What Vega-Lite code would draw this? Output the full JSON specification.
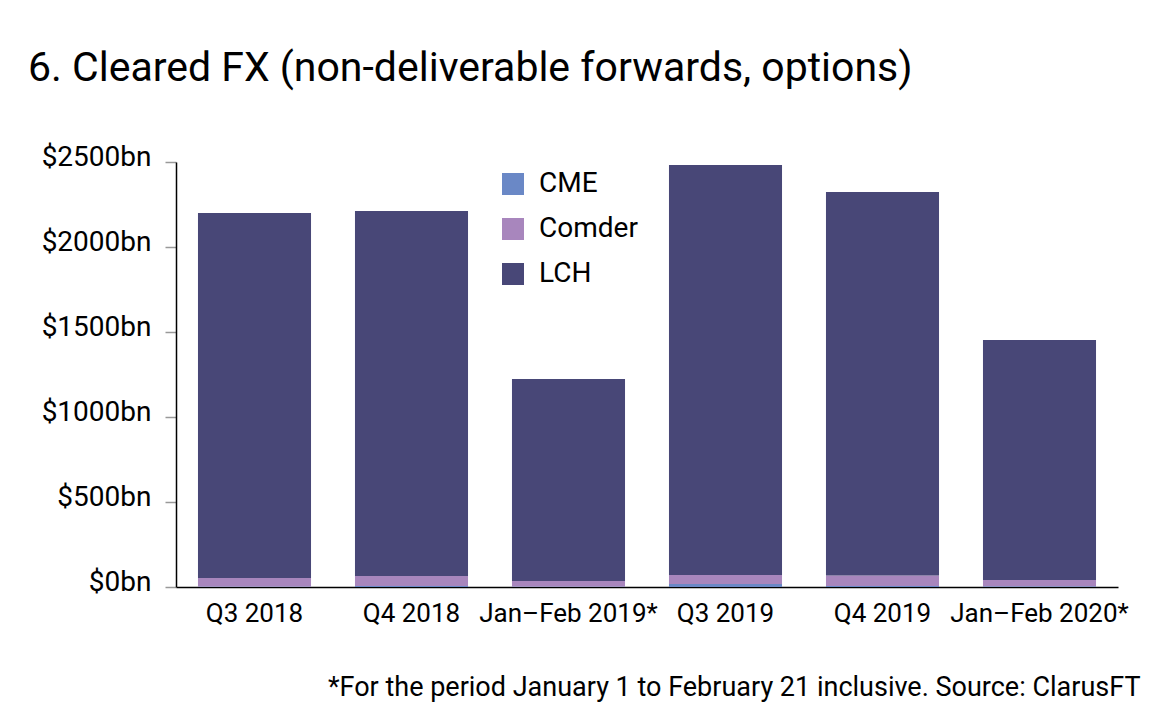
{
  "$schema": "https://vega.github.io/schema/vega-lite/v6.json",
  "width": 942,
  "height": 425,
  "autosize": {"type": "none"},
  "padding": {"left": 176, "top": 162, "right": 42, "bottom": 129},
  "background": "white",
  "title": {
    "text": "6. Cleared FX (non-deliverable forwards, options)",
    "anchor": "start",
    "frame": "group",
    "dx": -148,
    "offset": 21,
    "baseline": "alphabetic",
    "fontSize": 41,
    "font": "Roboto",
    "fontWeight": "normal",
    "color": "black",
    "limit": 0
  },
  "data": {
    "values": [
      {"period": "Q3 2018", "clearer": "CME", "value": 3},
      {"period": "Q3 2018", "clearer": "Comder", "value": 50},
      {"period": "Q3 2018", "clearer": "LCH", "value": 2147},
      {"period": "Q4 2018", "clearer": "CME", "value": 6},
      {"period": "Q4 2018", "clearer": "Comder", "value": 59},
      {"period": "Q4 2018", "clearer": "LCH", "value": 2147},
      {"period": "Jan–Feb 2019*", "clearer": "CME", "value": 3},
      {"period": "Jan–Feb 2019*", "clearer": "Comder", "value": 32},
      {"period": "Jan–Feb 2019*", "clearer": "LCH", "value": 1189},
      {"period": "Q3 2019", "clearer": "CME", "value": 18},
      {"period": "Q3 2019", "clearer": "Comder", "value": 53},
      {"period": "Q3 2019", "clearer": "LCH", "value": 2411},
      {"period": "Q4 2019", "clearer": "CME", "value": 6},
      {"period": "Q4 2019", "clearer": "Comder", "value": 62},
      {"period": "Q4 2019", "clearer": "LCH", "value": 2256},
      {"period": "Jan–Feb 2020*", "clearer": "CME", "value": 4},
      {"period": "Jan–Feb 2020*", "clearer": "Comder", "value": 37},
      {"period": "Jan–Feb 2020*", "clearer": "LCH", "value": 1412}
    ]
  },
  "mark": {"type": "bar"},
  "encoding": {
    "x": {
      "field": "period",
      "type": "nominal",
      "sort": null,
      "scale": {"paddingInner": 0.28, "paddingOuter": 0.14},
      "axis": {
        "title": "*For the period January 1 to February 21 inclusive. Source: ClarusFT",
        "titleFontSize": 27,
        "titleFont": "Roboto",
        "titleFontWeight": "normal",
        "titleColor": "black",
        "titleAnchor": "end",
        "titleAlign": "right",
        "titleBaseline": "alphabetic",
        "titleX": 964,
        "titleY": 108,
        "titleLimit": 0,
        "labelAngle": 0,
        "labelPadding": 13,
        "labelFontSize": 26,
        "labelFont": "Roboto",
        "labelColor": "black",
        "labelLimit": 0,
        "ticks": false,
        "domainColor": "black",
        "domainWidth": 1.5
      }
    },
    "y": {
      "field": "value",
      "type": "quantitative",
      "stack": "zero",
      "scale": {"domain": [0, 2500], "nice": false},
      "axis": {
        "title": null,
        "values": [0, 500, 1000, 1500, 2000, 2500],
        "labelExpr": "'$' + datum.value + 'bn'",
        "grid": false,
        "tickSize": 11,
        "tickColor": "#999999",
        "tickWidth": 1.5,
        "labelPadding": 14,
        "labelOffset": -5,
        "labelFontSize": 28,
        "labelFont": "Roboto",
        "labelColor": "black",
        "labelLimit": 0,
        "domainColor": "black",
        "domainWidth": 1.5
      }
    },
    "color": {
      "field": "clearer",
      "type": "nominal",
      "scale": {"domain": ["CME", "Comder", "LCH"], "range": ["#6a88c6", "#a886bd", "#484777"]},
      "legend": {
        "title": null,
        "orient": "none",
        "legendX": 323,
        "legendY": 8,
        "symbolType": "square",
        "symbolSize": 484,
        "symbolStrokeWidth": 0,
        "symbolOpacity": 1,
        "labelFontSize": 28,
        "labelFont": "Roboto",
        "labelColor": "black",
        "labelOffset": 12,
        "labelLimit": 0,
        "rowPadding": 17
      }
    },
    "order": {"field": "clearer", "sort": "ascending"}
  },
  "config": {
    "view": {"stroke": null},
    "font": "Roboto"
  }
}
